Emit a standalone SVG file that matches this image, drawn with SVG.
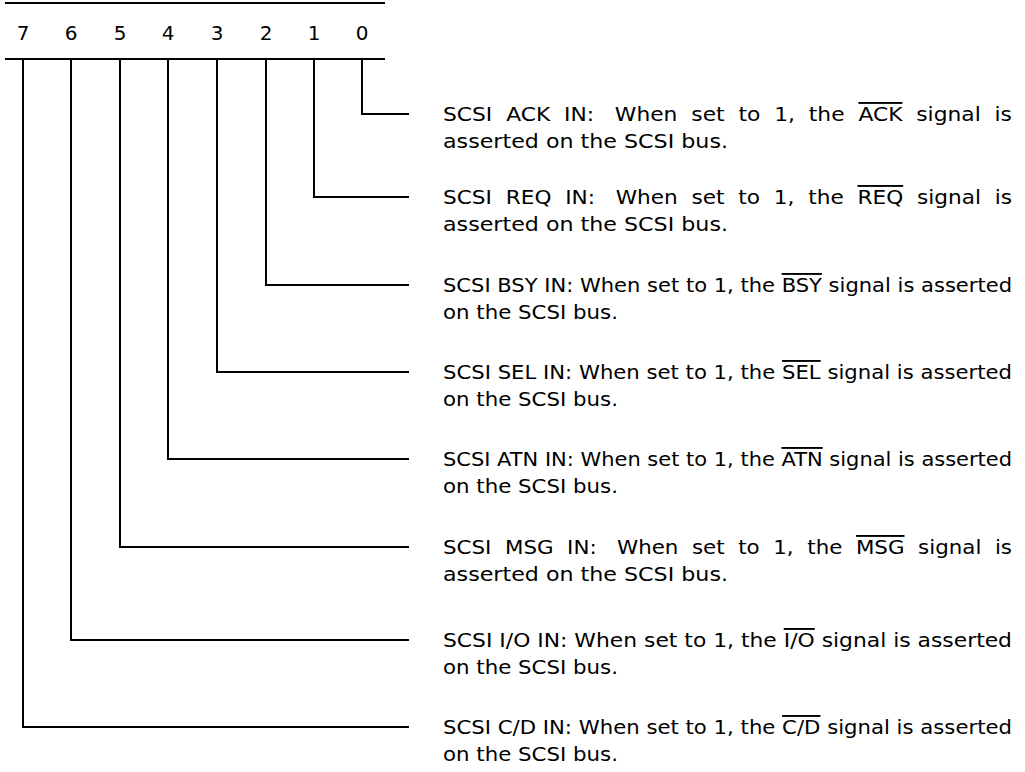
<svg xmlns="http://www.w3.org/2000/svg" width="1025" height="772" viewBox="0 0 1025 772">
<style>
  .ln { stroke:#000; stroke-width:2; fill:none; }
  .dg { font-family:"DejaVu Sans","Liberation Sans",sans-serif; font-size:20px; fill:#000; text-anchor:middle; }
  .tx { font-family:"DejaVu Sans","Liberation Sans",sans-serif; font-size:19px; fill:#000; white-space:pre; }
  .ov { text-decoration:overline; }
</style>
<rect width="1025" height="772" fill="#fff"/>
<g id="register">
  <line class="ln" x1="5" y1="3" x2="385" y2="3"/>
  <line class="ln" x1="5" y1="59" x2="385" y2="59"/>
  <text class="dg" x="23" y="40">7</text>
  <text class="dg" x="71" y="40">6</text>
  <text class="dg" x="120" y="40">5</text>
  <text class="dg" x="168" y="40">4</text>
  <text class="dg" x="217" y="40">3</text>
  <text class="dg" x="266" y="40">2</text>
  <text class="dg" x="314" y="40">1</text>
  <text class="dg" x="362" y="40">0</text>
</g>
<g id="connectors">
  <polyline class="ln" points="362,59 362,114 409,114"/>
  <polyline class="ln" points="314,59 314,197 409,197"/>
  <polyline class="ln" points="266,59 266,285 409,285"/>
  <polyline class="ln" points="217,59 217,372 409,372"/>
  <polyline class="ln" points="168,59 168,459 409,459"/>
  <polyline class="ln" points="120,59 120,547 409,547"/>
  <polyline class="ln" points="71,59 71,640 409,640"/>
  <polyline class="ln" points="23,59 23,727 409,727"/>
</g>
<g id="bit0">
  <text class="tx" x="443" y="121" textLength="569" lengthAdjust="spacingAndGlyphs" xml:space="preserve">SCSI  ACK  IN:   When  set  to  1,  the  <tspan class="ov">ACK</tspan>  signal  is</text>
  <text class="tx" x="443" y="148" textLength="285" lengthAdjust="spacingAndGlyphs">asserted on the SCSI bus.</text>
</g>
<g id="bit1">
  <text class="tx" x="443" y="204" textLength="569" lengthAdjust="spacingAndGlyphs" xml:space="preserve">SCSI  REQ  IN:   When  set  to  1,  the  <tspan class="ov">REQ</tspan>  signal  is</text>
  <text class="tx" x="443" y="231" textLength="285" lengthAdjust="spacingAndGlyphs">asserted on the SCSI bus.</text>
</g>
<g id="bit2">
  <text class="tx" x="443" y="292" textLength="569" lengthAdjust="spacingAndGlyphs">SCSI BSY IN: When set to 1, the <tspan class="ov">BSY</tspan> signal is asserted</text>
  <text class="tx" x="443" y="319" textLength="175" lengthAdjust="spacingAndGlyphs">on the SCSI bus.</text>
</g>
<g id="bit3">
  <text class="tx" x="443" y="379" textLength="569" lengthAdjust="spacingAndGlyphs">SCSI SEL IN: When set to 1, the <tspan class="ov">SEL</tspan> signal is asserted</text>
  <text class="tx" x="443" y="406" textLength="175" lengthAdjust="spacingAndGlyphs">on the SCSI bus.</text>
</g>
<g id="bit4">
  <text class="tx" x="443" y="466" textLength="569" lengthAdjust="spacingAndGlyphs">SCSI ATN IN: When set to 1, the <tspan class="ov">ATN</tspan> signal is asserted</text>
  <text class="tx" x="443" y="493" textLength="175" lengthAdjust="spacingAndGlyphs">on the SCSI bus.</text>
</g>
<g id="bit5">
  <text class="tx" x="443" y="554" textLength="569" lengthAdjust="spacingAndGlyphs" xml:space="preserve">SCSI  MSG  IN:   When  set  to  1,  the  <tspan class="ov">MSG</tspan>  signal  is</text>
  <text class="tx" x="443" y="581" textLength="285" lengthAdjust="spacingAndGlyphs">asserted on the SCSI bus.</text>
</g>
<g id="bit6">
  <text class="tx" x="443" y="647" textLength="569" lengthAdjust="spacingAndGlyphs">SCSI I/O IN: When set to 1, the <tspan class="ov">I/O</tspan> signal is asserted</text>
  <text class="tx" x="443" y="674" textLength="175" lengthAdjust="spacingAndGlyphs">on the SCSI bus.</text>
</g>
<g id="bit7">
  <text class="tx" x="443" y="734" textLength="569" lengthAdjust="spacingAndGlyphs">SCSI C/D IN: When set to 1, the <tspan class="ov">C/D</tspan> signal is asserted</text>
  <text class="tx" x="443" y="761" textLength="175" lengthAdjust="spacingAndGlyphs">on the SCSI bus.</text>
</g>
</svg>
